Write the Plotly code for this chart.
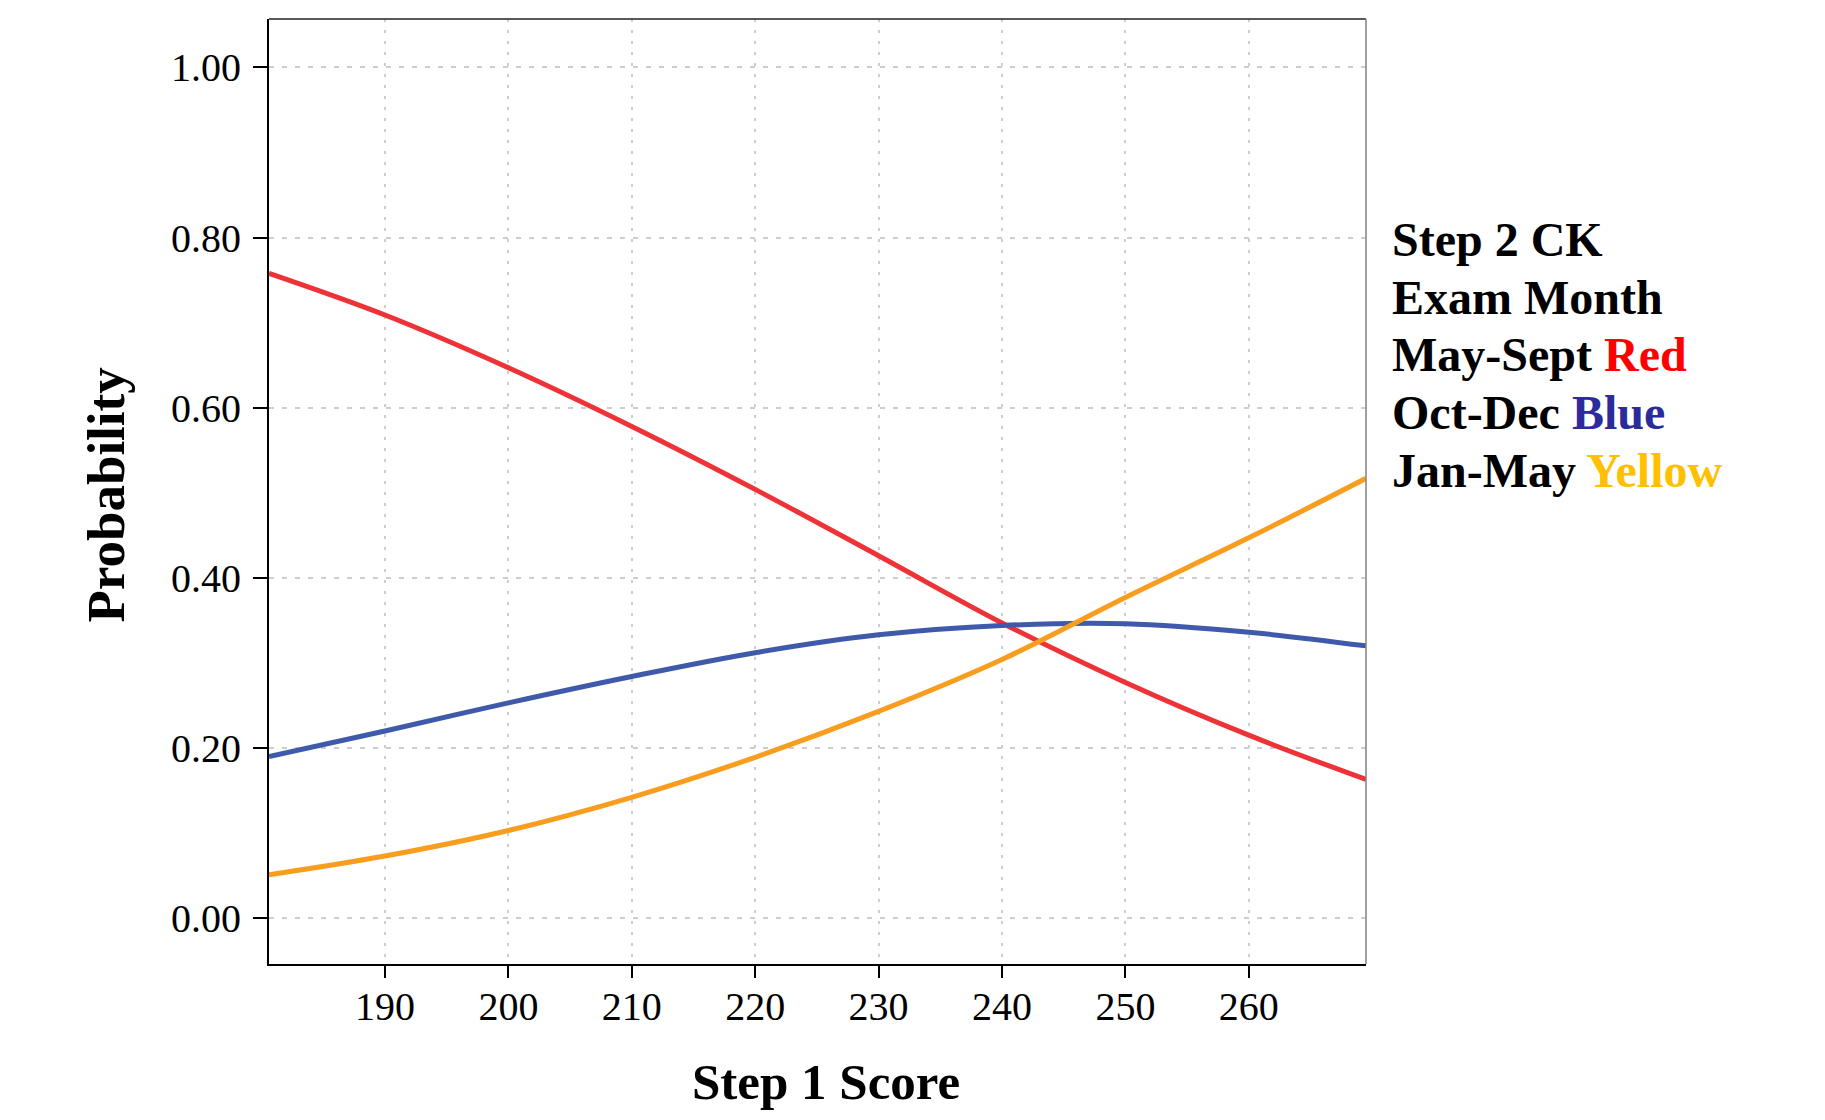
import plotly.graph_objects as go

# ---- data ----
step1_score = [180.6, 190, 200, 210, 220, 230, 240, 250, 260, 269.5]
may_sept_red = [0.758, 0.709, 0.647, 0.578, 0.504, 0.426, 0.347, 0.277, 0.215, 0.163]
oct_dec_blue = [0.190, 0.220, 0.253, 0.284, 0.312, 0.333, 0.344, 0.346, 0.336, 0.320]
jan_may_yellow = [0.051, 0.073, 0.103, 0.142, 0.189, 0.243, 0.304, 0.377, 0.447, 0.517]

x_ticks = [190, 200, 210, 220, 230, 240, 250, 260]
y_ticks = [0.0, 0.2, 0.4, 0.6, 0.8, 1.0]

legend_lines = [
    ("Step 2 CK", None, None),
    ("Exam Month", None, None),
    ("May-Sept", "Red", "#FF0000"),
    ("Oct-Dec", "Blue", "#2B2B9B"),
    ("Jan-May", "Yellow", "#FFC000"),
]

# ---- layout constants (page body has an 8px margin) ----
OFF = 8
W, H = 1825 - 2 * OFF, 1120 - 2 * OFF
PL, PR, PT, PB = 269, 1366.5, 18.6, 963.7          # plot box in window pixels
L, T = PL - OFF, PT - OFF
R, B = (OFF + W) - PR, (OFF + H) - PB
FONT = "Liberation Serif, Times New Roman, serif"

fig = go.Figure()
series = [
    (may_sept_red, "#EE3338", "May-Sept"),
    (oct_dec_blue, "#3F59AB", "Oct-Dec"),
    (jan_may_yellow, "#F99D1F", "Jan-May"),
]
for ys, col, name in series:
    fig.add_trace(go.Scatter(
        x=step1_score, y=ys, mode="lines", name=name,
        line=dict(color=col, width=5, shape="spline", smoothing=1.0),
        showlegend=False,
    ))

fig.update_layout(
    width=W, height=H,
    margin=dict(l=L, r=R, t=T, b=B, pad=0),
    paper_bgcolor="white", plot_bgcolor="white",
    font=dict(family=FONT, color="black"),
    showlegend=False,
)

fig.update_xaxes(
    range=[180.6, 269.5], tickvals=x_ticks,
    showline=True, linecolor="black", linewidth=2, mirror=False,
    ticks="outside", ticklen=12, tickwidth=2, tickcolor="black",
    tickfont=dict(family=FONT, size=40, color="black"),
    showgrid=True, gridcolor="#CDCDCD", gridwidth=2, griddash="3px,8px",
    zeroline=False, ticklabelstandoff=-6,
)
fig.update_yaxes(
    range=[-0.054, 1.057], tickvals=y_ticks, tickformat=".2f",
    showline=True, linecolor="black", linewidth=2, mirror=False,
    ticks="outside", ticklen=14, tickwidth=2, tickcolor="black",
    tickfont=dict(family=FONT, size=40, color="black"),
    showgrid=True, gridcolor="#CDCDCD", gridwidth=2, griddash="5px,8px",
    zeroline=False, ticklabelstandoff=4,
)

# top and right frame lines
fig.add_shape(type="line", xref="paper", yref="paper", x0=0, x1=1, y0=1, y1=1,
              line=dict(color="#222222", width=1.5), layer="above")
fig.add_shape(type="line", xref="paper", yref="paper", x0=1, x1=1, y0=0, y1=1,
              line=dict(color="#808080", width=1.5), layer="above")

# axis titles
fig.add_annotation(text="<b>Probability</b>", xref="paper", yref="paper",
                   x=0, y=0.5, xshift=105 - PL, yshift=-4, textangle=-90,
                   xanchor="center", yanchor="middle", showarrow=False,
                   font=dict(family=FONT, size=53, color="black"))
fig.add_annotation(text="<b>Step 1 Score</b>", xref="paper", yref="paper",
                   x=0.5, y=0, xshift=8, yshift=-(1082 - PB),
                   xanchor="center", yanchor="middle", showarrow=False,
                   borderpad=0,
                   font=dict(family=FONT, size=51, color="black"))

# custom legend text
line_centers = [238.6, 296.8, 353.8, 412.0, 470.0]
for (txt, cword, ccol), yc in zip(legend_lines, line_centers):
    if cword:
        label = f"<b>{txt} <span style='color:{ccol}'>{cword}</span></b>"
    else:
        label = f"<b>{txt}</b>"
    fig.add_annotation(text=label, xref="paper", yref="paper",
                       x=1, y=1, xshift=1390 - PR, yshift=-(yc - PT),
                       xanchor="left", yanchor="middle", showarrow=False,
                       align="left",
                       font=dict(family=FONT, size=48, color="black"))

fig.write_html("out.html")
